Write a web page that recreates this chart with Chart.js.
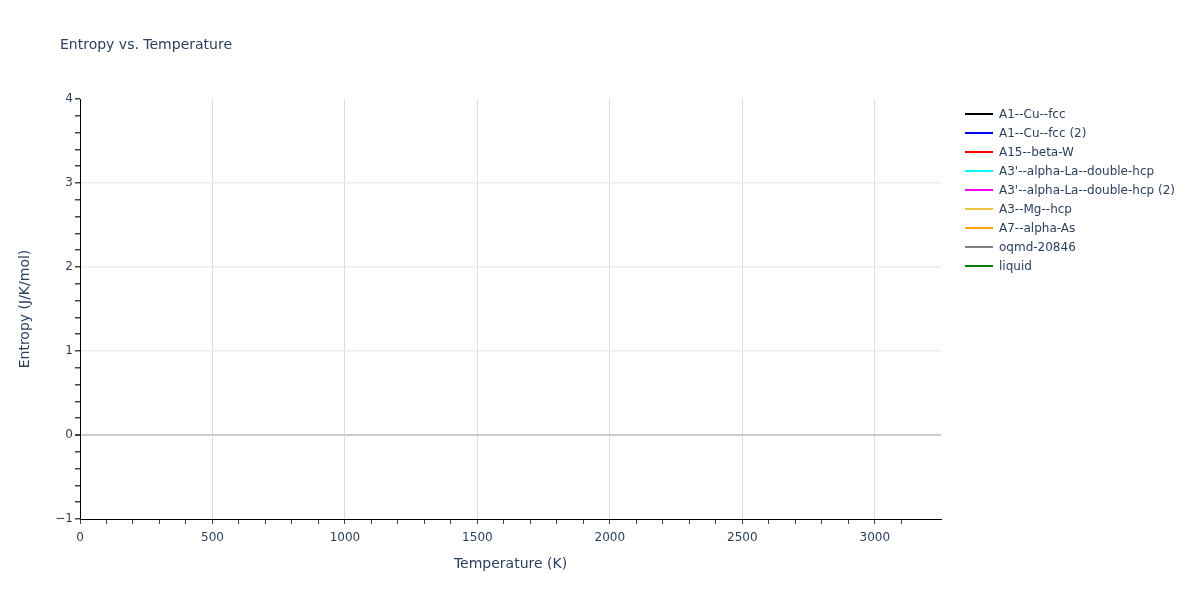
<!DOCTYPE html>
<html>
<head>
<meta charset="utf-8">
<script src="https://cdn.jsdelivr.net/npm/chart.js@4"></script>
<style>
  html, body { margin: 0; padding: 0; background: #fff; }
  #wrap { width: 1200px; height: 600px; }
</style>
</head>
<body>
<div id="wrap"><canvas id="myChart" width="1200" height="600"></canvas></div>
<script>
// Datos del gráfico (las series no tienen puntos visibles en la figura)
const seriesNames = [
  'A1--Cu--fcc',
  'A1--Cu--fcc (2)',
  'A15--beta-W',
  "A3'--alpha-La--double-hcp",
  "A3'--alpha-La--double-hcp (2)",
  'A3--Mg--hcp',
  'A7--alpha-As',
  'oqmd-20846',
  'liquid'
];
const seriesColors = ['#000000', '#0000ff', '#ff0000', '#00ffff', '#ff00ff', '#efc53f', '#ffa500', '#808080', '#008000'];
const temperatures = [];   // K
const entropyValues = seriesNames.map(() => []); // J/K/mol, vacío
const xTickLabels = [0, 500, 1000, 1500, 2000, 2500, 3000];
const yTickLabels = [-1, 0, 1, 2, 3, 4];

const fontFamily = '"DejaVu Sans", verdana, arial, sans-serif';
const textColor = '#2a3f5f';

const isMultiple = (v, step) => Math.abs(v / step - Math.round(v / step)) < 1e-6;

// Plugin: título y leyenda al estilo plotly
const plotlyDecor = {
  id: 'plotlyDecor',
  afterDraw(chart) {
    const ctx = chart.ctx;
    ctx.save();
    ctx.fillStyle = textColor;
    ctx.font = '14px ' + fontFamily;
    ctx.textBaseline = 'middle';
    ctx.textAlign = 'left';
    ctx.fillText('Entropy vs. Temperature', 60, 45);

    ctx.font = '12px ' + fontFamily;
    chart.data.datasets.forEach((ds, i) => {
      const y = 114 + i * 19;
      ctx.strokeStyle = ds.borderColor;
      ctx.lineWidth = 2;
      ctx.beginPath();
      ctx.moveTo(965, y);
      ctx.lineTo(993, y);
      ctx.stroke();
      ctx.fillStyle = textColor;
      ctx.fillText(ds.label, 999, y + 1);
    });
    ctx.restore();
  }
};

const ctx = document.getElementById('myChart').getContext('2d');
const chart = new Chart(ctx, {
  type: 'line',
  data: {
    datasets: seriesNames.map((name, i) => ({
      label: name,
      data: temperatures.map((t, j) => ({ x: t, y: entropyValues[i][j] })),
      borderColor: seriesColors[i],
      backgroundColor: seriesColors[i],
      borderWidth: 2,
      pointRadius: 0,
      fill: false
    }))
  },
  options: {
    responsive: false,
    animation: false,
    layout: { padding: { left: 0, top: 99, right: 259, bottom: 0 } },
    plugins: {
      legend: { display: false },
      title: { display: false },
      tooltip: { enabled: false }
    },
    scales: {
      x: {
        type: 'linear',
        min: 0,
        max: 3250,
        afterFit: (scale) => { scale.height = 81; },
        border: { display: true, color: '#000', width: 1 },
        grid: {
          color: (c) => (c.tick && isMultiple(c.tick.value, 500) && c.tick.value > 0 && c.tick.value < 3250) ? '#dcdcdc' : 'rgba(0,0,0,0)',
          lineWidth: 1,
          drawTicks: true,
          tickLength: 5,
          tickColor: (c) => (c.tick && c.tick.value === 3250) ? 'rgba(0,0,0,0)' : '#444'
        },
        ticks: {
          stepSize: 100,
          autoSkip: false,
          maxRotation: 0,
          padding: 7,
          color: textColor,
          font: { family: fontFamily, size: 12 },
          callback: (v) => xTickLabels.includes(Math.round(v)) && isMultiple(v, 500) ? String(Math.round(v)) : ''
        },
        title: {
          display: true,
          text: 'Temperature (K)',
          color: textColor,
          font: { family: fontFamily, size: 14 },
          padding: { top: 0, bottom: 27 }
        }
      },
      y: {
        type: 'linear',
        min: -1,
        max: 4,
        afterFit: (scale) => { scale.width = 80; },
        border: { display: true, color: '#000', width: 1 },
        grid: {
          color: (c) => {
            if (!c.tick) return 'rgba(0,0,0,0)';
            const v = c.tick.value;
            if (Math.abs(v) < 1e-6) return '#cccccc';
            if (isMultiple(v, 1) && v > -0.5 && v < 3.5) return '#ebebeb';
            return 'rgba(0,0,0,0)';
          },
          lineWidth: (c) => (c.tick && Math.abs(c.tick.value) < 1e-6) ? 2 : 1.5,
          drawTicks: true,
          tickLength: 5,
          tickColor: '#444'
        },
        ticks: {
          stepSize: 0.2,
          autoSkip: false,
          padding: 2,
          color: textColor,
          font: { family: fontFamily, size: 12 },
          callback: (v) => {
            if (!isMultiple(v, 1)) return '';
            const n = Math.round(v);
            if (!yTickLabels.includes(n)) return '';
            return n < 0 ? '\u2212' + Math.abs(n) : String(n);
          }
        },
        title: {
          display: true,
          text: 'Entropy (J/K/mol)',
          color: textColor,
          font: { family: fontFamily, size: 14 },
          padding: { top: 17, bottom: 0 }
        }
      }
    }
  },
  plugins: [plotlyDecor]
});
</script>
</body>
</html>
